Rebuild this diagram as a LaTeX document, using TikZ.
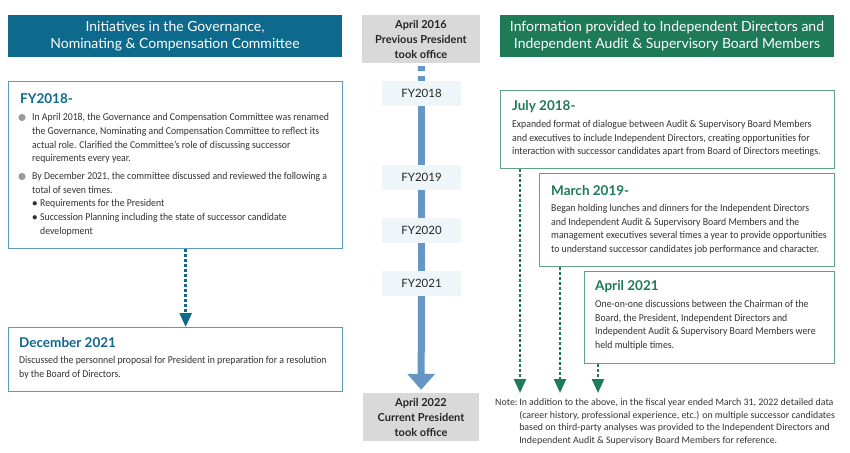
\documentclass[tikz,border=0pt]{standalone}
\usepackage{fontspec}
\setmainfont{Carlito}[FakeStretch=0.93]
\newfontfamily\headfont{Lato}
\newfontfamily\notefont{Carlito}
\usepackage{tikz}
\usetikzlibrary{positioning,arrows.meta}

\definecolor{govblue}{HTML}{0E6A8C}
\definecolor{govline}{HTML}{5A9CC0}
\definecolor{infogreen}{HTML}{1E7A57}
\definecolor{infoline}{HTML}{5FA285}
\definecolor{officegray}{HTML}{D9D9D9}
\definecolor{barblue}{HTML}{6696C3}
\definecolor{fyfill}{HTML}{EEF6FA}
\definecolor{bodytext}{HTML}{333333}
\definecolor{dotgray}{HTML}{9A9A9A}

\newcommand{\smalldot}{\makebox[8pt][l]{$\bullet$}}

\tikzset{
  header/.style={fill=#1, text=white, align=center, minimum width=334pt,
    minimum height=42pt, inner sep=0pt, font=\headfont\fontsize{14}{17}\selectfont},
  panel/.style={draw=#1, line width=1.3pt, fill=white, anchor=north west, inner sep=0pt},
  office/.style={fill=officegray, align=center, minimum height=48pt, inner sep=0pt,
    text=black!85, font=\headfont\bfseries\fontsize{11}{15}\selectfont},
  fylabel/.style={fill=fyfill, minimum width=79pt, minimum height=25pt, inner sep=0pt,
    text=black!85, font=\headfont\fontsize{11.5}{13}\selectfont},
  boxtitle/.style={anchor=west, inner sep=0pt, text=#1, font=\headfont\bfseries\fontsize{13.5}{15}\selectfont},
  boxtext/.style={anchor=north west, align=left, inner sep=0pt, text=bodytext,
    font=\fontsize{10.5}{13.7}\selectfont},
  shaft/.style={draw=barblue, line width=7pt},
  dotarrow/.style={draw=#1, line width=2.4pt, dash pattern=on 2.4pt off 2.6pt,
    -{Triangle[width=12pt,length=14pt]}}
}

\begin{document}
\begin{tikzpicture}[x=1pt,y=-1pt]
\useasboundingbox (0,0) rectangle (850,452);

\node[header=govblue] (govhead) at (175,36) {Initiatives in the Governance,\\Nominating \& Compensation Committee};
\node[header=infogreen] (infohead) at (667,36) {Information provided to Independent Directors and\\Independent Audit \& Supervisory Board Members};

% left column
\node[panel=govline, minimum width=334pt, minimum height=167pt] (fybox) at (8,81) {};
\node[boxtitle=govblue] (fytitle) at ([shift={(12,18)}]fybox.north west) {FY2018-};
\node[boxtext] (fytext) at ([shift={(12,30)}]fybox.north west) {%
  \begin{tabular}{@{}p{12pt}@{}l@{}}
  & In April 2018, the Governance and Compensation Committee was renamed\\
  & the Governance, Nominating and Compensation Committee to reflect its\\
  & actual role. Clarified the Committee's role of discussing successor\\
  & requirements every year.\\[4pt]
  & By December 2021, the committee discussed and reviewed the following a\\
  & total of seven times.\\
  & \smalldot Requirements for the President\\
  & \smalldot Succession Planning including the state of successor candidate\\
  & \hspace{8pt}development
  \end{tabular}};
\foreach \y in {36.5, 95.5}
  \fill[dotgray] ([shift={(14,\y)}]fybox.north west) circle (3.6pt);

\node[panel=govline, minimum width=334pt, minimum height=64pt] (decbox) at (8,327) {};
\node[boxtitle=govblue] (dectitle) at ([shift={(11,16)}]decbox.north west) {December 2021};
\node[boxtext] (dectext) at ([shift={(11,29)}]decbox.north west) {Discussed the personnel proposal for President in preparation for a resolution\\by the Board of Directors.};
\draw[dotarrow=govblue] ([xshift=10pt]fybox.south) -- ([xshift=10pt]decbox.north);

% timeline
\node[office, minimum width=118pt] (pres16) at (421,39) {April 2016\\Previous President\\took office};
\node[office, minimum width=116pt] (pres22) at (421,417) {April 2022\\Current President\\took office};
\foreach \yr/\y in {2018/93.5, 2019/177.5, 2020/230.5, 2021/283.5}
  \node[fylabel] (fy\yr) at (421.5,\y) {FY\yr};
\draw[shaft, dash pattern=on 5pt off 5pt, dash phase=7pt] (pres16) -- (fy2018);
\foreach \a/\b in {2018/2019, 2019/2020, 2020/2021}
  \draw[shaft] (fy\a) -- (fy\b);
\draw[shaft, shorten >=3pt, -{Triangle[width=27pt,length=16pt]}] (fy2021) -- (pres22);

% right column
\node[panel=infoline, minimum width=334pt, minimum height=78pt] (julybox) at (500,90) {};
\node[boxtitle=infogreen] (julytitle) at ([shift={(12,17)}]julybox.north west) {July 2018-};
\node[boxtext] (julytext) at ([shift={(12,30)}]julybox.north west) {Expanded format of dialogue between Audit \& Supervisory Board Members\\and executives to include Independent Directors, creating opportunities for\\interaction with successor candidates apart from Board of Directors meetings.};

\node[panel=infoline, minimum width=295pt, minimum height=93pt] (marchbox) at (539,173) {};
\node[boxtitle=infogreen] (marchtitle) at ([shift={(12,18)}]marchbox.north west) {March 2019-};
\node[boxtext] (marchtext) at ([shift={(12,31)}]marchbox.north west) {Began holding lunches and dinners for the Independent Directors\\and Independent Audit \& Supervisory Board Members and the\\management executives several times a year to provide opportunities\\to understand successor candidates job performance and character.};

\node[panel=infoline, minimum width=250pt, minimum height=92pt] (aprilbox) at (584,271) {};
\node[boxtitle=infogreen] (apriltitle) at ([shift={(11,16)}]aprilbox.north west) {April 2021};
\node[boxtext] (apriltext) at ([shift={(11,29)}]aprilbox.north west) {One-on-one discussions between the Chairman of the\\Board, the President, Independent Directors and\\Independent Audit \& Supervisory Board Members were\\held multiple times.};

\node[boxtext, font=\notefont\fontsize{9.9}{12.5}\selectfont] (note) at (495,397) {%
  \begin{tabular}{@{}l@{\,}l@{}}
  Note: & In addition to the above, in the fiscal year ended March 31, 2022 detailed data\\
  & (career history, professional experience, etc.) on multiple successor candidates\\
  & based on third-party analyses was provided to the Independent Directors and\\
  & Independent Audit \& Supervisory Board Members for reference.
  \end{tabular}};

\draw[dotarrow=infogreen, shorten >=4pt] ([xshift=20pt]julybox.south west) -- ([xshift=20pt]julybox.south west |- note.north);
\draw[dotarrow=infogreen, shorten >=4pt] ([xshift=21pt]marchbox.south west) -- ([xshift=21pt]marchbox.south west |- note.north);
\draw[dotarrow=infogreen, shorten >=4pt] ([xshift=14pt]aprilbox.south west) -- ([xshift=14pt]aprilbox.south west |- note.north);
\end{tikzpicture}
\end{document}
